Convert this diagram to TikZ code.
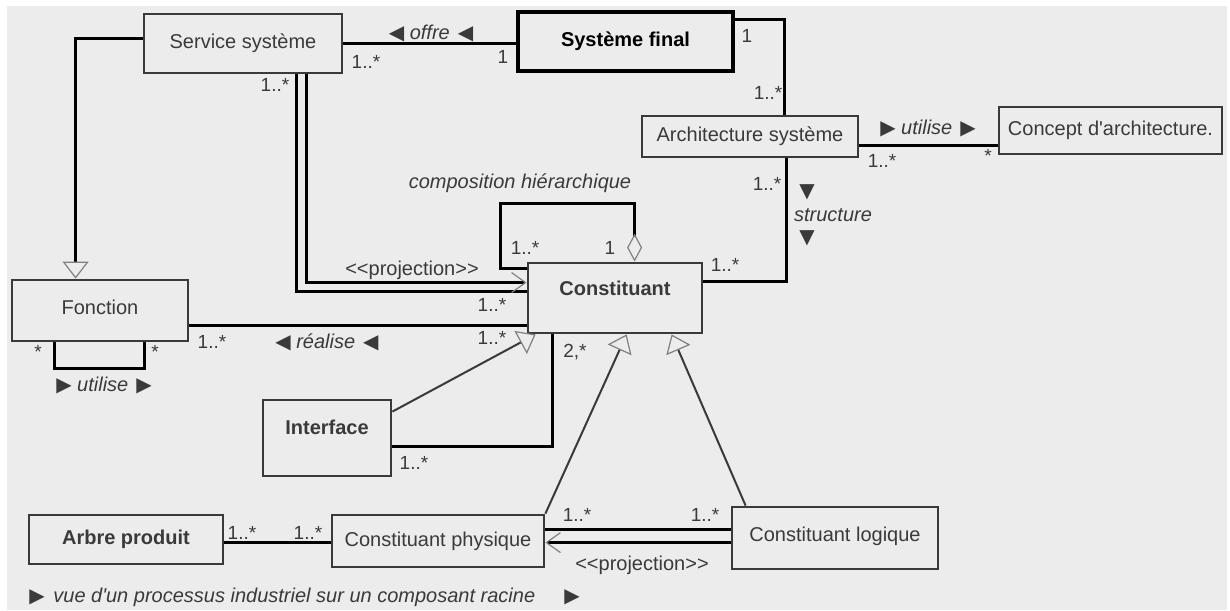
\documentclass[tikz,border=0pt]{standalone}
\usepackage{fontspec}
\setmainfont{Liberation Sans}[Ligatures=TeXOff]
\newfontfamily\symb{DejaVu Sans}
\usepackage{tikz}
\usetikzlibrary{arrows.meta, calc, positioning}
\definecolor{fond}{HTML}{ECECEC}
\definecolor{encre}{HTML}{3A3A3A}
\newcommand{\tri}[1]{{\upshape\symb\fontsize{10}{10}\selectfont #1}}
\tikzset{
    classe/.style={draw=encre, line width=1.4pt, fill=fond, text=encre, inner sep=0pt,
        text height=7pt, text depth=2pt, font=\fontsize{10}{12}\selectfont},
    gras/.style={font=\fontsize{10}{12}\selectfont\bfseries},
    assoc/.style={draw=black, line width=1.5pt},
    gen/.style={draw=encre, line width=1pt},
    mult/.style={text=encre, inner sep=0pt, font=\fontsize{9.5}{11}\selectfont},
    role/.style={text=encre, inner sep=0pt, font=\fontsize{10}{12}\selectfont\itshape},
    heritage/.style={-{Triangle[open, length=8.5pt, width=13pt, line width=0.6pt, color=gray]}},
    projection/.style={-{Straight Barb[length=7pt, width=10pt, line width=0.6pt, color=gray]}},
}

\begin{document}
\begin{tikzpicture}[x=0.5pt, y=-0.5pt]
    % fond
    \fill[white] (0,0) rectangle (1230,610);
    \fill[fond] (7,6) rectangle (1227,610);
    \useasboundingbox (0,0) rectangle (1230,610);

    % classes
    \node[classe, minimum width=99pt, minimum height=29.5pt] (service) at (243,43.5) {Service système};
    \node[classe, gras, draw=black, text=black, line width=2pt, minimum width=107.5pt, minimum height=29.5pt] (sysfinal) at (625.5,41.5) {Système final};
    \node[classe, minimum width=108pt, minimum height=20.5pt] (archi) at (750,136.5) {Architecture système};
    \node[classe, minimum width=111.5pt, minimum height=23.5pt] (concept) at (1110.5,130.5) {Concept d'architecture.};
    \node[classe, gras, text depth=10pt, minimum width=87pt, minimum height=35pt] (constit) at (615,298) {Constituant};
    \node[classe, text depth=3.5pt, minimum width=88pt, minimum height=30.5pt] (fonction) at (100,310.5) {Fonction};
    \node[classe, gras, text depth=11pt, minimum width=64pt, minimum height=38pt] (interface) at (327,438) {Interface};
    \node[classe, gras, minimum width=97pt, minimum height=24.5pt] (arbre) at (126,539.5) {Arbre produit};
    \node[classe, minimum width=106pt, minimum height=26pt] (cphys) at (438,541) {Constituant physique};
    \node[classe, text depth=4pt, minimum width=103pt, minimum height=31pt] (clog) at (835,538) {Constituant logique};

    % associations
    \draw[assoc] (service.east) -- (service.east -| sysfinal.west);
    \draw[assoc] ($(sysfinal.north east)+(0,10)$) -| ($(archi.north west)+(144,0)$);
    \draw[assoc] ($(archi.south east)+(0,-13)$) -- ($(concept.south west)+(0,-10)$);
    \draw[assoc] ($(archi.south west)+(146,0)$) |- ($(constit.north east)+(0,20)$);
    \draw[assoc, {Diamond[open, length=14pt, width=7.5pt, line width=0.6pt, color=gray]}-]
        ($(constit.north west)+(108,0)$) |- ($(constit.north west)+(-26,-58)$)
        |- ($(constit.north west)+(0,7)$);
    \draw[assoc] ($(service.south west)+(154,0)$) |- ($(constit.north west)+(0,30)$);
    \draw[assoc, projection] ($(service.south west)+(164,0)$) |- ($(constit.north west)+(0,21)$);
    \draw[assoc] ($(fonction.north east)+(0,47)$) -- ($(constit.north west)+(0,64)$);
    \draw[assoc] ($(fonction.south west)+(44,0)$) -- ++(0,26) -| ($(fonction.south west)+(134,0)$);
    \draw[assoc] ($(interface.north east)+(0,48)$) -| ($(constit.south west)+(26,0)$);
    \draw[assoc] ($(clog.north west)+(0,24)$) -- ($(cphys.north east)+(0,16)$);
    \draw[assoc, projection] ($(clog.north west)+(0,37)$) -- ($(cphys.north east)+(0,29)$);
    \draw[assoc] ($(arbre.north east)+(0,29)$) -- ($(cphys.north west)+(0,29)$);

    % heritages
    \draw[assoc, heritage] ($(service.north west)+(0,26)$) -| ($(fonction.north west)+(65,0)$);
    \draw[gen, heritage] ($(interface.north east)+(0,13)$) -- ($(constit.south west)+(9,0)$);
    \draw[gen, heritage] (cphys.north east) -- ($(constit.south west)+(100,0)$);
    \draw[gen, heritage] ($(clog.north west)+(15,0)$) -- ($(constit.south west)+(145,0)$);

    % roles
    \node[role] (offre) at (431,33) {\tri{◀} offre\hspace{4pt}\tri{◀}};
    \node[role] (utilA) at (928,128) {\tri{▶} utilise\hspace{4pt}\tri{▶}};
    \node[role] (realise) at (327,342) {\tri{◀} réalise\hspace{4pt}\tri{◀}};
    \node[role] (utilF) at (104,385) {\tri{▶} utilise\hspace{4pt}\tri{▶}};
    \node[role] (structA) at (807,192) {\tri{▼}};
    \node[role] (struct) at (833,215) {structure};
    \node[role] (structB) at (807,238) {\tri{▼}};
    \node[role] (compo) at (520,183) {composition hiérarchique};
    \node[role] (vueA) at (37,597) {\tri{▶}};
    \node[role, anchor=west] (vue) at (53,597) {vue d'un processus industriel sur un composant racine};
    \node[role] (vueB) at (572,597) {\tri{▶}};
    \node[mult, font=\fontsize{10}{12}\selectfont] (projA) at (412,270) {<<projection>>};
    \node[mult, font=\fontsize{10}{12}\selectfont] (projB) at (642,565) {<<projection>>};

    % multiplicites
    \node[mult] (m1) at (366,62) {1..*};
    \node[mult] (m2) at (503,57) {1};
    \node[mult] (m3) at (747,36) {1};
    \node[mult] (m4) at (768,93) {1..*};
    \node[mult] (m5) at (882,161) {1..*};
    \node[mult] (m6) at (988,156) {*};
    \node[mult] (m7) at (767,184) {1..*};
    \node[mult] (m8) at (725,265) {1..*};
    \node[mult] (m9) at (525,248) {1..*};
    \node[mult] (m10) at (610,248) {1};
    \node[mult] (m11) at (275,85) {1..*};
    \node[mult] (m12) at (492,305) {1..*};
    \node[mult] (m13) at (212,342) {1..*};
    \node[mult] (m14) at (492,338) {1..*};
    \node[mult] (m15) at (38,352) {*};
    \node[mult] (m16) at (155,352) {*};
    \node[mult] (m17) at (414,463) {1..*};
    \node[mult] (m18) at (575,352) {2,*};
    \node[mult] (m19) at (577,515) {1..*};
    \node[mult] (m20) at (705,515) {1..*};
    \node[mult] (m21) at (242,533) {1..*};
    \node[mult] (m22) at (308,533) {1..*};
\end{tikzpicture}
\end{document}
